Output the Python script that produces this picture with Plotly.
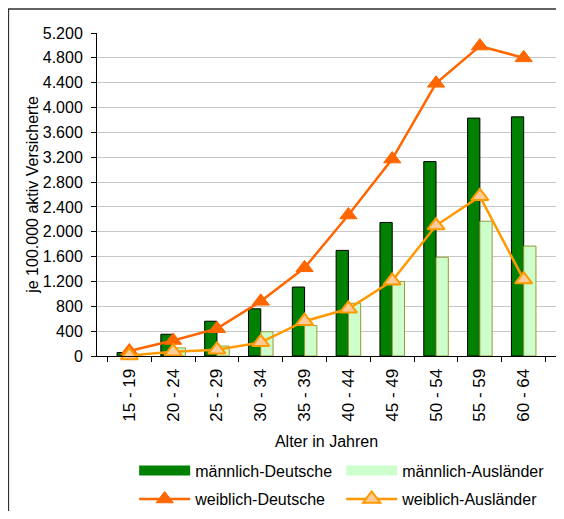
import plotly.graph_objects as go

# age groups (x categories)
alter = ['15 - 19', '20 - 24', '25 - 29', '30 - 34', '35 - 39',
         '40 - 44', '45 - 49', '50 - 54', '55 - 59', '60 - 64']

# per 100.000 active insured
maennlich_deutsche = [55, 350, 560, 760, 1110, 1700, 2150, 3130, 3830, 3850]
maennlich_auslaender = [10, 130, 160, 390, 490, 850, 1200, 1590, 2170, 1770]
weiblich_deutsche = [80, 250, 440, 880, 1420, 2270, 3170, 4390, 4990, 4800]
weiblich_auslaender = [10, 70, 100, 220, 560, 760, 1210, 2100, 2570, 1230]

y_ticks = list(range(0, 5201, 400))

FONT = 'Liberation Sans, Arial, sans-serif'
DARK_GREEN = '#008000'
LIGHT_GREEN = '#ccffcc'

fig = go.Figure()

fig.add_trace(go.Bar(x=alter, y=maennlich_deutsche, name='männlich-Deutsche', showlegend=False,
                     marker=dict(color=DARK_GREEN, line=dict(color='#000000', width=1))))
fig.add_trace(go.Bar(x=alter, y=maennlich_auslaender, name='männlich-Ausländer', showlegend=False,
                     marker=dict(color=LIGHT_GREEN, line=dict(color='#999933', width=1))))

# legend entries for the bars: wide swatches like the original instead of plotly's small squares
fig.add_trace(go.Scatter(x=[None], y=[None], mode='lines', name='männlich-Deutsche',
                         line=dict(color=DARK_GREEN, width=10), legend='legend'))
fig.add_trace(go.Scatter(x=[None], y=[None], mode='lines', name='männlich-Ausländer',
                         line=dict(color=LIGHT_GREEN, width=10), legend='legend'))

fig.add_trace(go.Scatter(x=alter, y=weiblich_deutsche, name='weiblich-Deutsche', mode='lines+markers',
                         line=dict(color='#ff6600', width=2.5),
                         marker=dict(symbol='triangle-up', size=15, color='#ff6600',
                                     line=dict(color='#ff6600', width=1)),
                         cliponaxis=False, legend='legend2'))
fig.add_trace(go.Scatter(x=alter, y=weiblich_auslaender, name='weiblich-Ausländer', mode='lines+markers',
                         line=dict(color='#ff9900', width=2.5),
                         marker=dict(symbol='triangle-up', size=15, color='#ffcc99',
                                     line=dict(color='#ff9900', width=2)),
                         cliponaxis=False, legend='legend2'))

legend_style = dict(orientation='h', xanchor='left', yanchor='middle', x=0.081,
                    itemwidth=51, entrywidth=141, entrywidthmode='pixels',
                    font=dict(family=FONT, size=16, color='#000000'),
                    bgcolor='rgba(0,0,0,0)', itemclick=False)

# page body keeps an 8px margin; keep the figure small enough to avoid scrollbars
fig.update_layout(
    width=548, height=503,
    margin=dict(l=89, r=0, t=25, b=155, autoexpand=False),
    paper_bgcolor='white', plot_bgcolor='white',
    font=dict(family=FONT, size=16, color='#000000'),
    separators=',.',
    barmode='group', bargap=0.44, bargroupgap=0,
    legend=dict(legend_style, y=-0.355),
    legend2=dict(legend_style, y=-0.443),
    xaxis=dict(
        type='category', automargin=False,
        title=dict(text='Alter in Jahren', font=dict(size=16)),
        tickangle=-90, tickfont=dict(size=17), ticklabelstandoff=5,
        showline=True, linecolor='#000000', linewidth=1,
        ticks='outside', tickson='boundaries', ticklen=5, tickcolor='#000000',
        showgrid=False,
    ),
    yaxis=dict(
        automargin=False,
        title=dict(text='je 100.000 aktiv Versicherte', font=dict(size=16), standoff=0),
        range=[0, 5200], tickvals=y_ticks, tickformat=',d', tickfont=dict(size=16),
        ticklabelstandoff=5,
        showline=True, linecolor='#000000', linewidth=1,
        ticks='outside', ticklen=5, tickcolor='#000000',
        showgrid=True, gridcolor='#c8c8c8', gridwidth=1, zeroline=False,
    ),
    shapes=[dict(type='rect', xref='paper', yref='paper',
                 x0=-0.1931, x1=1.05, y0=-0.6, y1=1.0743,
                 line=dict(color='#303030', width=1.5), fillcolor='rgba(0,0,0,0)', layer='above')],
)

fig.write_html('out.html')
